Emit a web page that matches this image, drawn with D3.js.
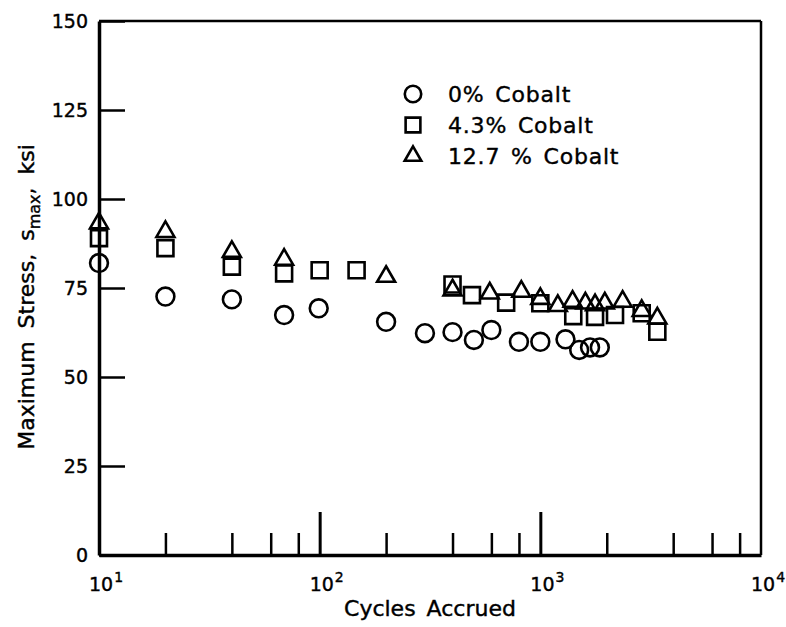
<!DOCTYPE html>
<html>

<head>
  <title>Maximum stress vs cycles accrued</title>
  <script src="https://cdn.jsdelivr.net/npm/d3@7"></script>
  <style type="text/css">
    body {
      margin: 0;
      background: #fff;
    }

    text {
      font-family: "DejaVu Sans", sans-serif;
      fill: #000;
      stroke: #000;
      stroke-width: 0.4;
    }

    .mark {
      fill: none;
      stroke: #000;
      stroke-width: 2.6;
    }
  </style>
</head>

<body>
  <div id="chartArea"></div>
  <script type="text/javascript">
    // 0% Cobalt (circles)
    let cycles0 = [10, 20, 40, 69, 99, 200, 300, 400, 500, 600, 800, 1000, 1300, 1500, 1680, 1860];
    let stress0 = [82, 72.6, 71.8, 67.4, 69.3, 65.5, 62.3, 62.6, 60.4, 63.2, 59.9, 59.9, 60.6, 57.6, 58.3, 58.3];

    // 4.3% Cobalt (squares)
    let cycles43 = [10, 20, 40, 69, 100, 147, 400, 490, 700, 1000, 1410, 1770, 2180, 2880, 3390];
    let stress43 = [89, 86.2, 81, 79.1, 80, 80, 76, 73, 70.9, 70.7, 67.1, 66.9, 67.4, 67.9, 62.7];

    // 12.7% Cobalt (triangles)
    let cycles127 = [10, 20, 40, 69, 200, 400, 590, 820, 1000, 1200, 1400, 1600, 1770, 1960, 2360, 2880, 3390];
    let stress127 = [93.2, 90.8, 85.2, 83, 78.2, 74.4, 73.5, 74, 72, 70, 71.2, 70.7, 70.2, 70.7, 71.2, 68.6, 66.5];

    let legendLabels = ['0% Cobalt', '4.3% Cobalt', '12.7 % Cobalt'];
    let yTicks = [0, 25, 50, 75, 100, 125, 150];
    let xLabelExps = [1, 2, 3, 4];
    let xMinorMults = [2, 4, 6, 8];

    let w = 786;
    let h = 627;
    let mLeft = 99, mRight = 761, mTop = 21, mBottom = 555;

    let xScale = d3.scaleLog()
      .domain([10, 10000])
      .range([mLeft, mRight]);

    let yScale = d3.scaleLinear()
      .domain([0, 150])
      .range([mBottom, mTop]);

    let svg = d3.select('#chartArea').append('svg')
      .attr('width', w)
      .attr('height', h);

    let series = [
      { n: cycles0, s: stress0, sym: d3.symbolCircle, size: 250 },
      { n: cycles43, s: stress43, sym: d3.symbolSquare, size: 256 },
      { n: cycles127, s: stress127, sym: d3.symbolTriangle, size: 140 }
    ];

    // frame
    svg.append('line').attr('x1', mLeft).attr('x2', mRight).attr('y1', mTop).attr('y2', mTop)
      .attr('stroke', '#000').attr('stroke-width', 2.5);
    svg.append('line').attr('x1', mRight).attr('x2', mRight).attr('y1', mTop).attr('y2', mBottom)
      .attr('stroke', '#000').attr('stroke-width', 2.5);

    // y axis
    let yAxis = svg.append('g')
      .attr('transform', `translate(${mLeft},0)`)
      .call(d3.axisLeft(yScale).tickValues(yTicks).tickSizeInner(-26).tickSizeOuter(0).tickPadding(11));
    yAxis.select('.domain').attr('stroke-width', 3.5);
    yAxis.selectAll('.tick line').attr('stroke-width', 2.5);
    yAxis.selectAll('.tick text').attr('font-size', 19).attr('font-family', '"DejaVu Sans", sans-serif');

    // x axis: minor ticks
    let minors = [];
    [10, 100, 1000].forEach(d => xMinorMults.forEach(m => minors.push(d * m)));
    let xMinor = svg.append('g')
      .attr('transform', `translate(0,${mBottom})`)
      .call(d3.axisBottom(xScale).tickValues(minors).tickSizeInner(-22).tickSizeOuter(0).tickFormat(''));
    xMinor.select('.domain').attr('stroke-width', 3.5);
    xMinor.selectAll('.tick line').attr('stroke-width', 2.5);

    // x axis: major ticks
    let xMajor = svg.append('g')
      .attr('transform', `translate(0,${mBottom})`)
      .call(d3.axisBottom(xScale).tickValues([100, 1000]).tickSizeInner(-43).tickSizeOuter(0).tickFormat(''));
    xMajor.select('.domain').remove();
    xMajor.selectAll('.tick line').attr('stroke-width', 3);

    // x tick labels as 10^n
    let xl = svg.append('g').selectAll('text')
      .data(xLabelExps)
      .enter()
      .append('text')
      .attr('x', d => xScale(Math.pow(10, d)) - 10)
      .attr('y', 591)
      .attr('font-size', 19);
    xl.append('tspan').text('10');
    xl.append('tspan').attr('font-size', 14).attr('dy', -9).attr('dx', 1).text(d => d);

    // axis titles
    svg.append('text')
      .attr('x', 430)
      .attr('y', 616)
      .attr('text-anchor', 'middle')
      .attr('font-size', 22)
      .attr('word-spacing', 4)
      .text('Cycles Accrued');

    let yt = svg.append('text')
      .attr('transform', 'translate(34,297) rotate(-90)')
      .attr('text-anchor', 'middle')
      .attr('font-size', 22)
      .attr('word-spacing', 6);
    yt.append('tspan').text('Maximum Stress, s');
    yt.append('tspan').attr('font-size', 16).attr('dy', 6).text('max');
    yt.append('tspan').attr('dy', -6).text(',  ksi');

    // data marks
    series.forEach(sr => {
      svg.append('g').selectAll('path')
        .data(sr.n.map((n, i) => [n, sr.s[i]]))
        .enter()
        .append('path')
        .attr('class', 'mark')
        .attr('d', d3.symbol().type(sr.sym).size(sr.size))
        .attr('transform', d => `translate(${xScale(d[0])},${yScale(d[1])})`);
    });

    // legend
    let legend = svg.append('g').selectAll('g')
      .data(series)
      .enter()
      .append('g')
      .attr('transform', (d, i) => `translate(413,${94 + i * 31})`);
    legend.append('path')
      .attr('class', 'mark')
      .attr('d', d => d3.symbol().type(d.sym).size(d.size * 0.85)());
    legend.append('text')
      .attr('x', 35)
      .attr('y', 8)
      .attr('font-size', 22)
      .attr('letter-spacing', 0.8)
      .attr('word-spacing', 3)
      .text((d, i) => legendLabels[i]);
  </script>
</body>

</html>
